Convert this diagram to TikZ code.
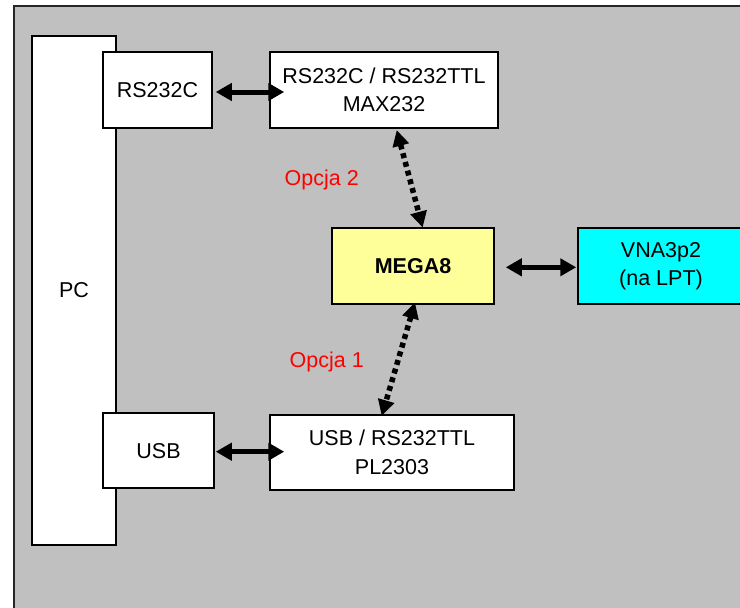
\documentclass[tikz,border=0pt]{standalone}
\usepackage{fontspec}
\setmainfont{Liberation Sans}
\usetikzlibrary{arrows.meta}
\definecolor{bggray}{HTML}{C0C0C0}
\definecolor{megayellow}{HTML}{FFFF99}
\definecolor{vnacyan}{HTML}{00FFFF}
\tikzset{
  blk/.style={draw=black, line width=1.5pt, fill=white, inner sep=0pt, align=center,
    font=\fontsize{21.5}{28.5}\selectfont},
  biarrow/.style={line width=5pt, {Triangle[length=16pt,width=17pt]}-{Triangle[length=16pt,width=17pt]}},
  dotarrow/.style={line width=5.5pt, dash pattern=on 5pt off 4pt,
    {Triangle[length=16pt,width=16pt]}-{Triangle[length=16pt,width=16pt]}},
  optlabel/.style={text=red, font=\fontsize{21.5}{26}\selectfont, inner sep=0pt}
}
\begin{document}
\begin{tikzpicture}[x=1pt,y=-1pt]
\useasboundingbox (0,0) rectangle (740,608);
\fill[white] (0,0) rectangle (740,608);
\draw[fill=bggray, draw=black!85, line width=2pt] (14,6) rectangle (760,630);
\node[blk, minimum width=84pt, minimum height=509pt] (pc) at (74,290.5) {PC};
\node[blk, minimum width=109pt, minimum height=76pt] (rs) at (157.5,90) {RS232C};
\node[blk, minimum width=228pt, minimum height=76pt] (max) at (384,90) {RS232C / RS232TTL\\MAX232};
\node[blk, fill=megayellow, minimum width=162pt, minimum height=76pt] (mega) at (413,266) {\bfseries MEGA8};
\node[blk, fill=vnacyan, minimum width=166pt, minimum height=76pt] (vna) at (661,266) {VNA3p2\\(na LPT)};
\node[blk, minimum width=111pt, minimum height=75pt] (usb) at (158.5,450.7) {USB};
\node[blk, minimum width=244pt, minimum height=75pt] (pl) at (392,452.5) {USB / RS232TTL\\PL2303};
\node[optlabel] (op2) at (321.7,180) {Opcja 2};
\node[optlabel] (op1) at (326.7,361.7) {Opcja 1};
\draw[biarrow] ([xshift=3pt,yshift=-2pt]rs.east) -- ([xshift=15pt,yshift=-2pt]max.west);
\draw[biarrow] ([xshift=1pt,yshift=-1pt]usb.east) -- ([xshift=15pt,yshift=0.8pt]pl.west);
\draw[biarrow] ([xshift=11pt,yshift=-1.3pt]mega.east) -- ([xshift=-1pt,yshift=-1.3pt]vna.west);
\draw[dotarrow] ([xshift=12.7pt,yshift=-1.3pt]max.south) -- ([xshift=9.7pt,yshift=-0.3pt]mega.north);
\draw[dotarrow] ([xshift=2pt,yshift=2.3pt]mega.south) -- ([xshift=-10.3pt,yshift=-1.7pt]pl.north);
\end{tikzpicture}
\end{document}
